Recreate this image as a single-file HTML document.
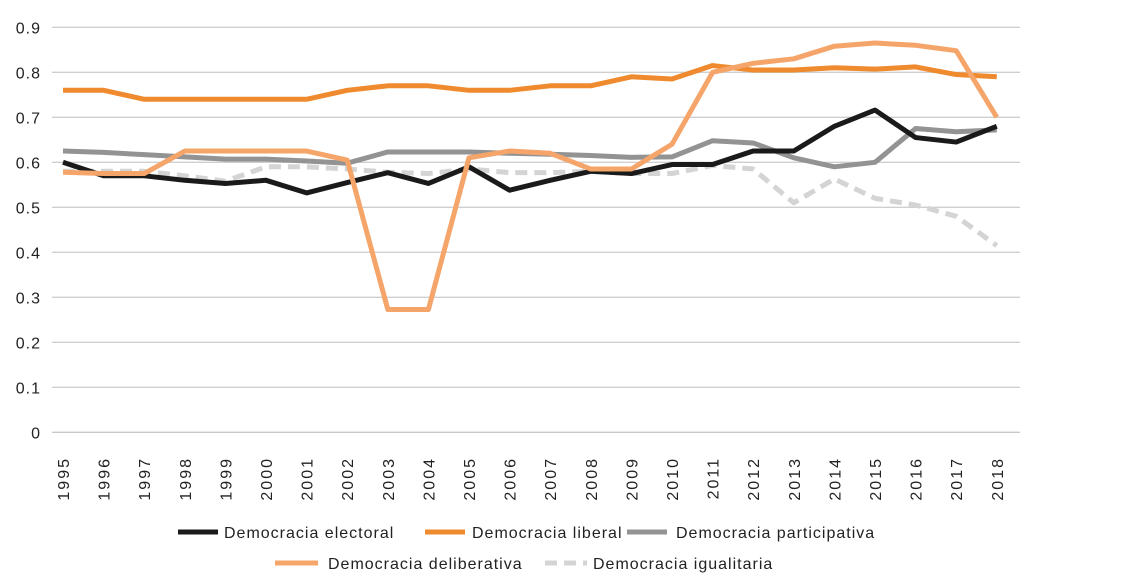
<!DOCTYPE html>
<html><head><meta charset="utf-8"><style>
body{margin:0;background:#fff;font-family:"Liberation Sans",sans-serif}
svg{display:block}
</style></head><body>
<svg id="chart" width="1139" height="586" viewBox="0 0 1139 586">
<g id="grid"></g><g id="series"></g><g id="labels"></g>
<g id="legend" font-size="16" letter-spacing="1" fill="#222">
 <g><line x1="178" y1="532" x2="218" y2="532" stroke="#1a1a1a" stroke-width="5"/><text x="224" y="538">Democracia electoral</text></g>
 <g><line x1="425" y1="532" x2="465" y2="532" stroke="#ef8a2e" stroke-width="5"/><text x="472" y="538">Democracia liberal</text></g>
 <g><line x1="627" y1="532" x2="667" y2="532" stroke="#939393" stroke-width="5"/><text x="676" y="538">Democracia participativa</text></g>
 <g><line x1="275" y1="563" x2="318" y2="563" stroke="#f5a56a" stroke-width="5"/><text x="328" y="569">Democracia deliberativa</text></g>
 <g><line x1="545" y1="563" x2="587" y2="563" stroke="#d4d4d4" stroke-width="5" stroke-dasharray="12,7"/><text x="593" y="569">Democracia igualitaria</text></g>
</g>
</svg>
<script>
const years=[1995,1996,1997,1998,1999,2000,2001,2002,2003,2004,2005,2006,2007,2008,2009,2010,2011,2012,2013,2014,2015,2016,2017,2018];
const yTicks=[0,0.1,0.2,0.3,0.4,0.5,0.6,0.7,0.8,0.9];
const electoral=[0.60,0.57,0.57,0.56,0.553,0.56,0.532,0.555,0.577,0.553,0.59,0.538,0.56,0.58,0.575,0.595,0.595,0.625,0.625,0.68,0.716,0.655,0.645,0.68];
const liberal=[0.76,0.76,0.74,0.74,0.74,0.74,0.74,0.76,0.77,0.77,0.76,0.76,0.77,0.77,0.79,0.785,0.815,0.805,0.805,0.81,0.807,0.812,0.795,0.79];
const participativa=[0.625,0.622,0.617,0.612,0.607,0.607,0.603,0.598,0.623,0.623,0.623,0.62,0.618,0.615,0.611,0.612,0.648,0.643,0.61,0.59,0.6,0.675,0.668,0.672];
const deliberativa=[0.578,0.575,0.575,0.625,0.625,0.625,0.625,0.605,0.273,0.273,0.61,0.625,0.62,0.585,0.585,0.64,0.80,0.82,0.83,0.858,0.865,0.86,0.848,0.70];
const igualitaria=[0.58,0.58,0.58,0.57,0.558,0.59,0.59,0.585,0.578,0.575,0.585,0.577,0.577,0.58,0.575,0.575,0.593,0.585,0.51,0.563,0.52,0.505,0.48,0.415];
const NS='http://www.w3.org/2000/svg';
const xS=y=>63+(y-1995)*40.6;
const yS=v=>432.3-v*450;
const grid=document.getElementById('grid'),ser=document.getElementById('series'),lab=document.getElementById('labels');
function mk(t,a,p){const e=document.createElementNS(NS,t);for(const k in a)e.setAttribute(k,a[k]);p.appendChild(e);return e;}
yTicks.forEach(v=>{
 const l=mk('line',{x1:52,x2:1020,y1:yS(v),y2:yS(v),stroke:v===0?'#c8c8c8':'#cfcfcf','stroke-width':1.3},grid);
 
 
 const t=mk('text',{x:41,y:yS(v)+6,'text-anchor':'end','font-size':16,'letter-spacing':1,fill:'#222'},lab);
 t.textContent=v===0?'0':v.toFixed(1);
 
 
});
years.forEach(y=>{
 const t=mk('text',{transform:`translate(${xS(y)+6},457) rotate(-90)`,'text-anchor':'end','font-size':16,'letter-spacing':2,fill:'#222'},lab);
 t.textContent=y;
 
 
});
function line(d,c,name,dash){
 const p=mk('polyline',{points:d.map((v,i)=>xS(years[i])+','+yS(v)).join(' '),fill:'none',stroke:c,'stroke-width':5,'stroke-linejoin':'round'},ser);
 if(dash)p.setAttribute('stroke-dasharray',dash);
 
 
}
line(igualitaria,'#d4d4d4','line-igualitaria','12,7');
line(participativa,'#939393','line-participativa');
line(electoral,'#1a1a1a','line-electoral');
line(liberal,'#ef8a2e','line-liberal');
line(deliberativa,'#f5a56a','line-deliberativa');
</script>
</body></html>
